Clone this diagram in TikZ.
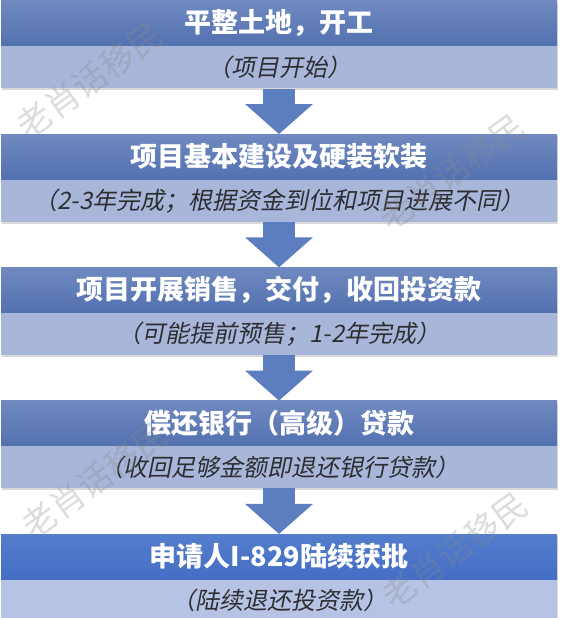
\documentclass[tikz,border=0pt]{standalone}
\usepackage{fontspec}
\setmainfont{Noto Sans CJK SC}
\newfontfamily\subfont[FakeSlant=0.2]{Noto Sans CJK SC}
\usetikzlibrary{arrows.meta,positioning,shadows}

\definecolor{headtop}{HTML}{7089C0}
\definecolor{headbot}{HTML}{5271B0}
\definecolor{lasttop}{HTML}{547DCC}
\definecolor{lastbot}{HTML}{446EC4}
\definecolor{subblue}{HTML}{A7B6D9}
\definecolor{lastsub}{HTML}{B6C3E4}
\definecolor{subtext}{HTML}{2E2E33}
\definecolor{flowblue}{HTML}{5C7EC0}
\definecolor{markgray}{HTML}{8A8A8A}

\begin{document}
\begin{tikzpicture}[x=1pt,y=1pt,
    head/.style={minimum width=556pt, minimum height=45pt, inner sep=0pt,
        top color=headtop, bottom color=headbot, text=white,
        font=\bfseries\fontsize{27}{27}\selectfont,
        drop shadow={shadow xshift=1pt, shadow yshift=-2pt, opacity=.3}},
    sub/.style={minimum width=556pt, minimum height=42pt, inner sep=0pt,
        fill=subblue, text=subtext, font=\subfont\fontsize{24}{24}\selectfont,
        drop shadow={shadow xshift=1pt, shadow yshift=-2pt, opacity=.3}},
    flow/.style={line width=32pt, draw=flowblue,
        -{Triangle[width=66pt,length=30pt]}},
    wmark/.style={rotate=36, text=markgray, opacity=.3,
        font=\fontsize{34}{34}\selectfont}]

\useasboundingbox (0,0) rectangle (563,618);

% blocks
\node[head] (h1) at (279,594.5) {平整土地，开工};
\node[sub, below=0pt of h1] (s1) {（项目开始）};

\node[head, below=45.5pt of s1] (h2) {项目基本建设及硬装软装};
\node[sub, below=0pt of h2] (s2) {（2-3年完成；根据资金到位和项目进展不同）};

\node[head, below=45.5pt of s2] (h3) {项目开展销售，交付，收回投资款};
\node[sub, below=0pt of h3] (s3) {（可能提前预售；1-2年完成）};

\node[head, below=45.5pt of s3] (h4) {偿还银行（高级）贷款};
\node[sub, below=0pt of h4] (s4) {（收回足够金额即退还银行贷款）};

\node[head, below=45.5pt of s4, top color=lasttop, bottom color=lastbot] (h5) {申请人I-829陆续获批};
\node[sub, below=0pt of h5, fill=lastsub] (s5) {（陆续退还投资款）};

% arrows
\foreach \i/\j in {1/2,2/3,3/4,4/5}
    \draw[flow] (s\i.south) -- (h\j.north);

% watermarks
\node[wmark] (wm1) at (90,538) {老肖话移民};
\node[wmark] (wm2) at (452,446) {老肖话移民};
\node[wmark] (wm3) at (95,138) {老肖话移民};
\node[wmark] (wm4) at (455,68) {老肖话移民};

\end{tikzpicture}
\end{document}
